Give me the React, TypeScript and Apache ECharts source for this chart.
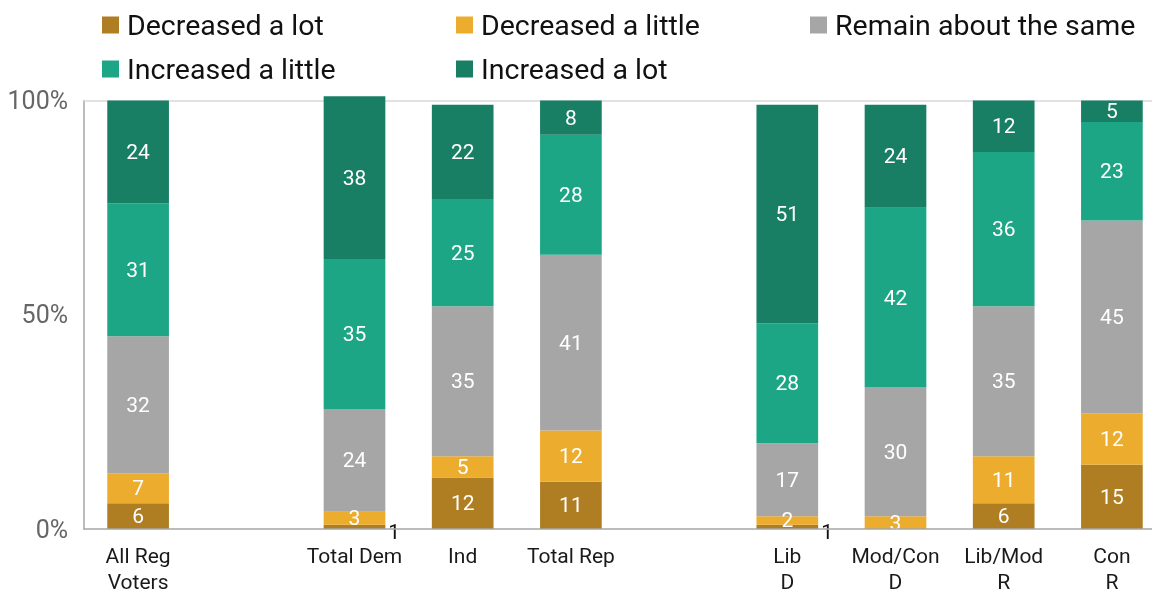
import React, { useEffect, useRef } from "react";
import * as echarts from "echarts";

const categories = ["All Reg\nVoters", "", "Total Dem", "Ind", "Total Rep", "", "Lib\nD", "Mod/Con\nD", "Lib/Mod\nR", "Con\nR"];
const seriesNames = ["Decreased a lot", "Decreased a little", "Remain about the same", "Increased a little", "Increased a lot"];
const decreasedLot = [6, null, 1, 12, 11, null, 1, 0, 6, 15];
const decreasedLittle = [7, null, 3, 5, 12, null, 2, 3, 11, 12];
const remainSame = [32, null, 24, 35, 41, null, 17, 30, 35, 45];
const increasedLittle = [31, null, 35, 25, 28, null, 28, 42, 36, 23];
const increasedLot = [24, null, 38, 22, 8, null, 51, 24, 12, 5];
const yTicks = ["0%", "50%", "100%"];

const colors = ["#AF7E22", "#ECAC2E", "#A6A6A6", "#1DA685", "#187F64"];
const FONT = "Roboto";

function toData(arr: (number | null)[]) {
  return arr.map((v) => {
    if (v === null) return "-";
    if (v === 0) return { value: 0, label: { show: false } };
    if (v < 2)
      return {
        value: v,
        label: { show: true, position: "right", color: "#111", offset: [-2, 5] },
      };
    return v;
  });
}

export default function App() {
  const ref = useRef<HTMLDivElement>(null);
  useEffect(() => {
    if (!ref.current) return;
    const chart = echarts.init(ref.current, null, { renderer: "svg" });
    const values = [decreasedLot, decreasedLittle, remainSame, increasedLittle, increasedLot];
    const legendText = { fontFamily: FONT, fontSize: 28.5, color: "#111", lineHeight: 30, padding: [0, 0, 0, 3] };
    const legendBase = {
      orient: "vertical",
      top: 10,
      padding: 0,
      itemWidth: 17,
      itemHeight: 17,
      itemGap: 14,
      icon: "rect",
      textStyle: legendText,
      selectedMode: false,
    };
    chart.setOption({
      animation: false,
      textStyle: { fontFamily: FONT },
      legend: [
        { ...legendBase, left: 102, data: [seriesNames[0], seriesNames[3]] },
        { ...legendBase, left: 456, data: [seriesNames[1], seriesNames[4]] },
        { ...legendBase, left: 810, data: [seriesNames[2]] },
      ],
      grid: { left: 84, right: -14, top: 100.5, bottom: 65, outerBoundsMode: "none", containLabel: false },
      xAxis: [
        {
          type: "category",
          data: categories,
          z: 5,
          axisLine: { lineStyle: { color: "#a6a6a6", width: 1.5 } },
          axisTick: { alignWithLabel: true, inside: true, length: 5, lineStyle: { color: "#a6a6a6", width: 1.5 } },
          axisLabel: { fontFamily: FONT, fontSize: 21, color: "#1a1a1a", lineHeight: 26, margin: 14, interval: 0 },
        },
        {
          type: "category",
          data: categories,
          position: "top",
          axisLine: { show: true, lineStyle: { color: "#d9d9d9", width: 1.5 } },
          axisTick: { show: false },
          axisLabel: { show: false },
        },
      ],
      yAxis: {
        type: "value",
        min: 0,
        max: 100,
        interval: 50,
        axisLine: { show: true, lineStyle: { color: "#a6a6a6", width: 1.5 } },
        axisTick: { show: false },
        splitLine: { show: false },
        axisLabel: {
          fontFamily: FONT,
          fontSize: 25,
          color: "#666",
          margin: 16,
          formatter: (v: number) => yTicks[Math.round(v / 50)],
        },
      },
      series: seriesNames.map((name, i) => ({
        name,
        type: "bar",
        stack: "total",
        barWidth: "57%",
        clip: false,
        itemStyle: { color: colors[i] },
        label: { show: true, position: "inside", color: "#fff", fontFamily: FONT, fontSize: 21 },
        data: toData(values[i]),
      })),
    });
    return () => chart.dispose();
  }, []);
  return <div ref={ref} style={{ position: "fixed", left: 0, top: 0, width: 1152, height: 594 }} />;
}
